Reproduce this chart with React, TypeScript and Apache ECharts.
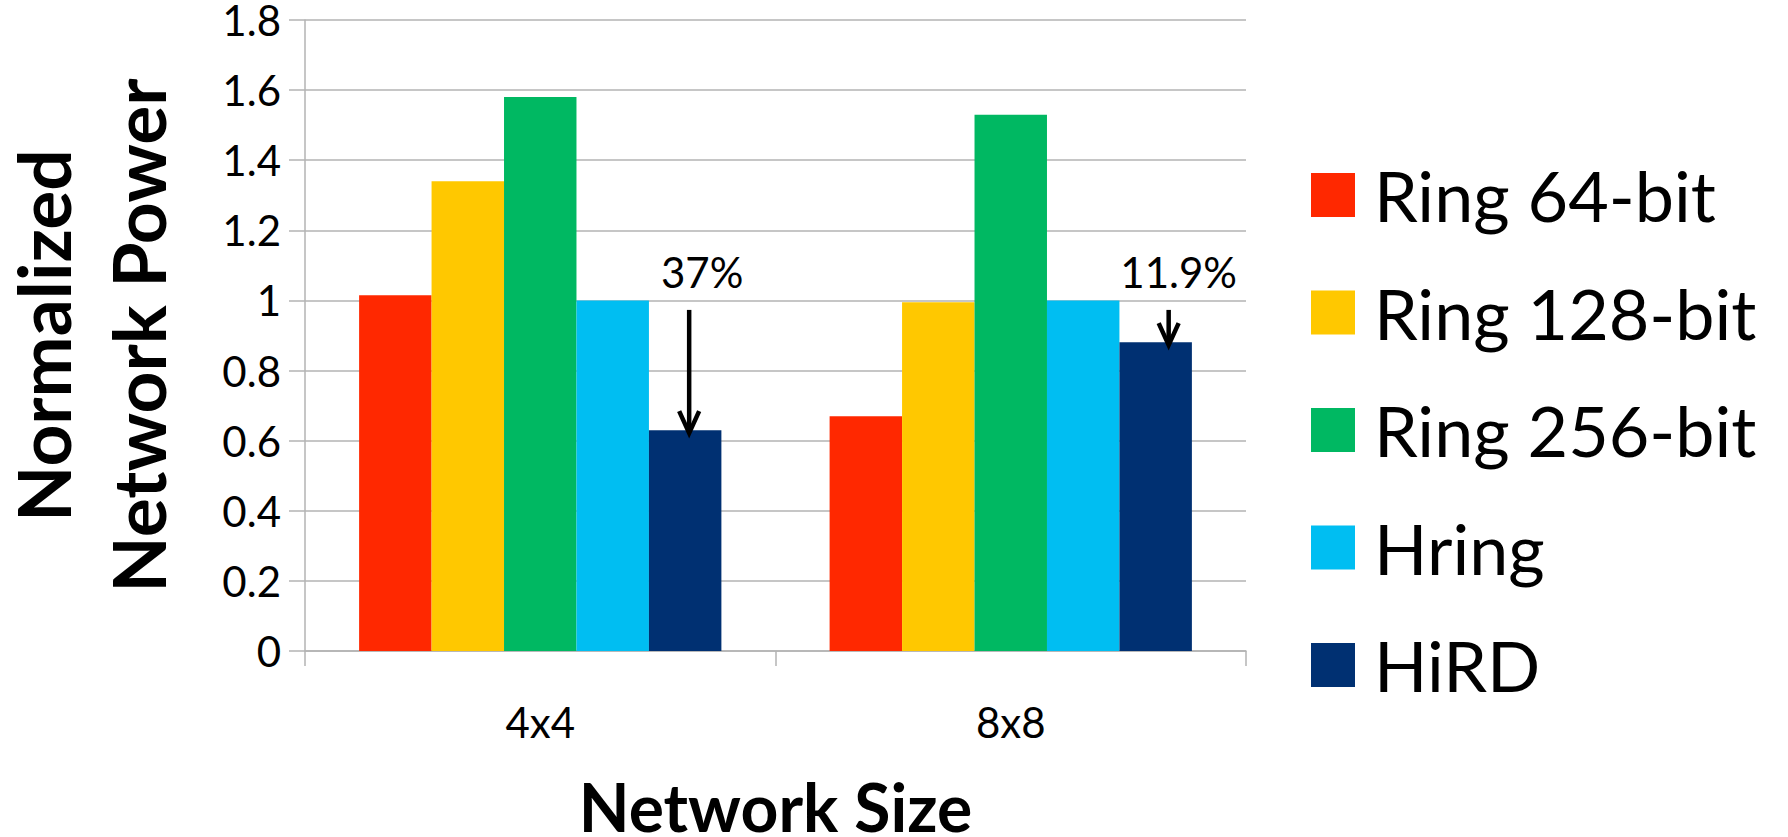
import React, { useEffect, useRef } from "react";
import * as echarts from "echarts";

// Network sizes on the x axis
const categories = ["4x4", "8x8"];

// Normalized network power per configuration
const seriesNames = ["Ring 64-bit", "Ring 128-bit", "Ring 256-bit", "Hring", "HiRD"];
const ring64 = [1.015, 0.67];
const ring128 = [1.34, 0.995];
const ring256 = [1.58, 1.53];
const hring = [1.0, 1.0];
const hird = [0.63, 0.881];

// Power reduction of HiRD relative to Hring, printed above each HiRD bar
const reductionLabels = ["37%", "11.9%"];

const yTicks = { min: 0, max: 1.8, interval: 0.2 };

const colors = ["#FF2800", "#FFC800", "#00B862", "#00BEF2", "#003072"];

const FONT = "Lato, 'Open Sans', sans-serif";
const GRID_COLOR = "#b3b3b3";
const CATEGORY_GAP = 0.23;

// Horizontal nudges (px) for the arrows and their labels, per category
const arrowNudge = [4, 13];
const labelNudge = [13, 10];
// Value levels where the arrows start and where the labels sit
const ARROW_START = 0.973;
const LABEL_BASE = 1.022;

export default function App() {
  const ref = useRef<HTMLDivElement>(null);

  useEffect(() => {
    if (!ref.current) return;
    const chart = echarts.init(ref.current, null, { renderer: "svg" });

    const values = [ring64, ring128, ring256, hring, hird];

    const barSeries = seriesNames.map((name, i) => ({
      name,
      type: "bar",
      data: values[i],
      barGap: "0%",
      barCategoryGap: `${CATEGORY_GAP * 100}%`,
      itemStyle: { color: colors[i] },
      z: 2,
    }));

    const annotationSeries = {
      type: "custom",
      z: 5,
      silent: true,
      data: categories.map((_, i) => [i, hird[i]]),
      renderItem: (params: any, api: any) => {
        const idx = params.dataIndex;
        const cat = api.value(0);
        const v = api.value(1);
        const band = api.size([1, 0])[0];
        const tipPt = api.coord([cat, v]);
        const group = band * (1 - CATEGORY_GAP);
        const barW = group / seriesNames.length;
        const hirdX = tipPt[0] - group / 2 + (seriesNames.length - 0.5) * barW;
        const x = hirdX + arrowNudge[idx];
        const yStart = api.coord([cat, ARROW_START])[1];
        const yTip = tipPt[1] + 3;
        const yLabel = api.coord([cat, LABEL_BASE])[1];
        const stroke = { stroke: "#000", lineWidth: 4.5, fill: null };
        return {
          type: "group",
          children: [
            {
              type: "line",
              shape: { x1: x, y1: yStart, x2: x, y2: yTip - 3 },
              style: { ...stroke, lineCap: "butt" },
            },
            {
              type: "polyline",
              shape: {
                points: [
                  [x - 10, yTip - 22],
                  [x, yTip],
                  [x + 10, yTip - 22],
                ],
              },
              style: { ...stroke, lineJoin: "miter" },
            },
            {
              type: "text",
              x: x + labelNudge[idx],
              y: yLabel,
              style: {
                text: reductionLabels[idx],
                fontFamily: FONT,
                fontSize: 42,
                fill: "#000",
                align: "center",
                verticalAlign: "bottom",
              },
            },
          ],
        };
      },
    };

    chart.setOption({
      animation: false,
      backgroundColor: "#ffffff",
      grid: {
        left: 305,
        right: 542,
        top: 20,
        bottom: 186,
        containLabel: false,
        outerBoundsMode: "none",
      },
      legend: {
        data: seriesNames,
        orient: "vertical",
        left: 1311,
        top: 160,
        padding: 0,
        icon: "rect",
        itemWidth: 44,
        itemHeight: 44,
        itemGap: 47.5,
        selectedMode: false,
        textStyle: {
          fontFamily: FONT,
          fontSize: 70,
          color: "#000",
          padding: [12, 0, 0, 14],
        },
      },
      xAxis: {
        type: "category",
        data: categories,
        name: "Network Size",
        nameLocation: "middle",
        nameGap: 128,
        nameTextStyle: {
          fontFamily: FONT,
          fontWeight: "bold",
          fontSize: 66,
          lineHeight: 54,
          color: "#000",
        },
        axisLine: { show: true, lineStyle: { color: GRID_COLOR, width: 1.5 } },
        axisTick: { show: true, length: 15, lineStyle: { color: GRID_COLOR, width: 1.5 } },
        axisLabel: {
          fontFamily: FONT,
          fontSize: 42,
          color: "#000",
          margin: 50,
        },
      },
      yAxis: {
        type: "value",
        min: yTicks.min,
        max: yTicks.max,
        interval: yTicks.interval,
        name: "Normalized\nNetwork Power",
        nameLocation: "middle",
        nameRotate: 90,
        nameGap: 120,
        nameTextStyle: {
          fontFamily: FONT,
          fontWeight: "bold",
          fontSize: 73,
          lineHeight: 95,
          color: "#000",
        },
        axisLine: { show: true, lineStyle: { color: GRID_COLOR, width: 1.5 } },
        axisTick: { show: true, length: 16, lineStyle: { color: GRID_COLOR, width: 1.5 } },
        splitLine: { show: true, lineStyle: { color: GRID_COLOR, width: 1.5 } },
        axisLabel: {
          fontFamily: FONT,
          fontSize: 42,
          lineHeight: 40,
          color: "#000",
          margin: 24,
        },
      },
      series: [...barSeries, annotationSeries],
    });

    return () => chart.dispose();
  }, []);

  return (
    <div
      ref={ref}
      style={{ position: "absolute", left: 0, top: 0, width: 1788, height: 837, background: "#fff" }}
    />
  );
}
